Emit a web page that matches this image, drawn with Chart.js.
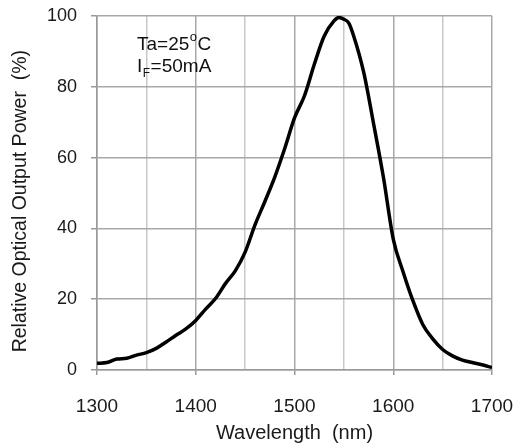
<!DOCTYPE html>
<html>
<head>
<meta charset="utf-8">
<script src="https://cdn.jsdelivr.net/npm/chart.js@4"></script>
<style>
  body { margin: 0; background: #fff; }
  #wrap { width: 515px; height: 447px; position: relative; }
</style>
</head>
<body>
<div id="wrap"><canvas id="spectrumChart"></canvas></div>
<script>
// Espectro relativo (Ta=25°C, IF=50mA)
const wavelengths = [1300, 1310, 1320, 1330, 1340, 1350, 1360, 1370, 1380, 1390,
    1400, 1410, 1420, 1430, 1440, 1450, 1460, 1470, 1480, 1490,
    1500, 1510, 1520, 1530, 1540, 1545, 1550, 1555, 1560, 1570,
    1580, 1590, 1600, 1610, 1620, 1630, 1640, 1650, 1660, 1670,
    1680, 1690, 1700];
const power = [1.9, 2.1, 3.1, 3.3, 4.2, 4.9, 6.1, 7.9, 9.8, 11.6,
    14.0, 17.2, 20.2, 24.4, 28.0, 33.3, 41.0, 47.6, 54.5, 62.5,
    71.2, 77.4, 86.3, 94.3, 98.6, 99.6, 99.1, 98.0, 94.3, 84.2,
    69.7, 54.5, 37.0, 27.7, 19.5, 12.8, 8.8, 5.8, 4.0, 2.8,
    2.1, 1.5, 0.7];
const xTicks = [1300, 1400, 1500, 1600, 1700];
const yTicks = [0, 20, 40, 60, 80, 100];
const noteLines = ['Ta=25', 'I'];

const points = wavelengths.map((w, i) => ({ x: w, y: power[i] }));
const fam = '"Liberation Sans", Arial, sans-serif';

// texto de condiciones dentro del gráfico
const notePlugin = {
    id: 'note',
    afterDraw(chart) {
        const ctx = chart.ctx;
        const x0 = 137;
        ctx.save();
        ctx.fillStyle = '#111';
        ctx.textBaseline = 'alphabetic';
        ctx.font = '19px ' + fam;
        ctx.fillText(noteLines[0], x0, 50);
        let w = ctx.measureText(noteLines[0]).width;
        ctx.font = '13px ' + fam;
        ctx.fillText('o', x0 + w + 0.5, 41);
        let w2 = ctx.measureText('o').width;
        ctx.font = '19px ' + fam;
        ctx.fillText('C', x0 + w + w2 + 1, 50);

        ctx.fillText(noteLines[1], x0, 72);
        w = ctx.measureText(noteLines[1]).width;
        ctx.font = '12px ' + fam;
        ctx.fillText('F', x0 + w + 0.5, 77);
        w2 = ctx.measureText('F').width;
        ctx.font = '19px ' + fam;
        ctx.fillText('=50mA', x0 + w + w2 + 1, 72);
        ctx.restore();
    }
};

const ctx = document.getElementById('spectrumChart').getContext('2d');
new Chart(ctx, {
    type: 'line',
    data: {
        datasets: [{
            label: 'Relative Optical Output Power',
            data: points,
            borderColor: '#000',
            borderWidth: 3.5,
            pointRadius: 0,
            cubicInterpolationMode: 'monotone',
            fill: false
        }]
    },
    options: {
        responsive: true,
        maintainAspectRatio: false,
        animation: false,
        layout: { padding: { top: 16, right: 23, left: 0, bottom: 0 } },
        plugins: { legend: { display: false }, tooltip: { enabled: false } },
        scales: {
            x: {
                type: 'linear',
                min: 1300,
                max: 1700,
                afterBuildTicks: scale => {
                    const t = [];
                    for (let v = 1300; v <= 1700; v += 50) t.push({ value: v });
                    scale.ticks = t;
                },
                afterFit: scale => {
                    scale.height = 77;
                    scale.paddingLeft = 0;
                    scale.paddingRight = 0;
                },
                ticks: {
                    autoSkip: false,
                    maxRotation: 0,
                    padding: 20,
                    color: '#1a1a1a',
                    font: { family: fam, size: 19 },
                    callback: v => xTicks.includes(v) ? String(v) : ''
                },
                grid: {
                    color: c => xTicks.includes(c.tick.value) ? '#a8a8a8' : '#c8c8c8',
                    lineWidth: 1.5,
                    tickLength: 5,
                    tickColor: c => xTicks.includes(c.tick.value) ? '#999' : 'rgba(0,0,0,0)'
                },
                border: { color: '#999', width: 1.5 },
                title: {
                    display: true,
                    text: 'Wavelength  (nm)',
                    color: '#1a1a1a',
                    font: { family: fam, size: 20 },
                    padding: { top: 0, bottom: 2 }
                }
            },
            y: {
                min: 0,
                max: 100,
                afterBuildTicks: scale => {
                    scale.ticks = yTicks.map(v => ({ value: v }));
                },
                afterFit: scale => {
                    scale.width = 97;
                    scale.paddingTop = 0;
                    scale.paddingBottom = 0;
                },
                ticks: {
                    padding: 14,
                    color: '#1a1a1a',
                    font: { family: fam, size: 18 }
                },
                grid: {
                    color: '#a8a8a8',
                    lineWidth: 1.5,
                    tickLength: 6,
                    tickColor: '#999'
                },
                border: { color: '#999', width: 1.5 },
                title: {
                    display: true,
                    text: 'Relative Optical Output Power  (%)\u00a0\u00a0\u00a0',
                    color: '#1a1a1a',
                    font: { family: fam, size: 19.5 },
                    padding: { top: 9, bottom: 0 }
                }
            }
        }
    },
    plugins: [notePlugin]
});
</script>
</body>
</html>
